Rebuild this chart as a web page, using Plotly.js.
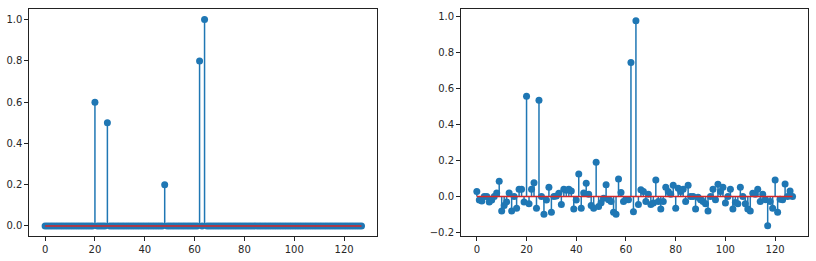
<!DOCTYPE html>
<html>
<head>
<meta charset="utf-8">
<script src="https://cdn.plot.ly/plotly-3.0.1.min.js"></script>
<style>html,body{margin:0;padding:0;background:#fff;}#chart{width:816px;height:261px;}</style>
</head>
<body>
<div id="chart"></div>
<script>
// Original sparse signal (length 128): index -> value for non-zero spikes
const N = 128;
const spikeIdx = [20, 25, 48, 62, 64];
const spikeVal = [0.6, 0.5, 0.2, 0.8, 1.0];

// Reconstructed signal
const recon = [
  0.028, -0.02, -0.025, 0.0, 0.0, -0.03, -0.02, 0.0, 0.02, 0.085,
  -0.08, -0.05, -0.03, 0.02, -0.08, 0.0, -0.065, 0.04, 0.04, -0.03,
  0.557, -0.04, 0.04, 0.077, -0.065, 0.535, 0.0, -0.098, -0.02, 0.052,
  -0.087, 0.0, 0.003, 0.018, -0.045, 0.04, 0.035, 0.04, 0.03, -0.07,
  -0.02, 0.125, -0.065, 0.02, 0.074, 0.013, -0.05, -0.065, 0.19, -0.055,
  -0.035, -0.01, 0.065, -0.018, -0.028, -0.087, -0.098, 0.098, 0.023, -0.028,
  -0.018, -0.018, 0.745, -0.085, 0.976, -0.045, 0.037, 0.028, -0.028, 0.013,
  -0.045, -0.036, 0.092, -0.028, -0.07, -0.028, 0.052, 0.028, 0.013, 0.063,
  -0.065, 0.046, 0.028, 0.04, -0.028, 0.063, 0.0, 0.0, -0.07, -0.004,
  -0.018, -0.028, -0.04, -0.08, 0.0, 0.04, -0.018, 0.068, 0.028, 0.052,
  -0.036, 0.0, 0.04, -0.07, -0.033, -0.04, 0.052, 0.0, -0.04, -0.07,
  -0.08, 0.018, 0.013, 0.04, -0.028, 0.013, -0.018, -0.162, -0.028, -0.065,
  0.092, -0.087, -0.015, -0.018, 0.07, 0.0, 0.03, 0.0
];

const xs = Array.from({length: N}, (_, i) => i);
const orig = xs.map(i => { const k = spikeIdx.indexOf(i); return k >= 0 ? spikeVal[k] : 0; });

const BLUE = '#1f77b4', RED = '#d62728';

function stemTraces(vals, xa, ya) {
  const sx = [], sy = [];
  xs.forEach((x, i) => { sx.push(x, x, null); sy.push(0, vals[i], null); });
  return [
    {x: sx, y: sy, mode: 'lines', line: {color: BLUE, width: 1.5}, xaxis: xa, yaxis: ya, hoverinfo: 'skip', type: 'scatter'},
    {x: xs, y: vals, mode: 'markers', marker: {color: BLUE, size: 7}, xaxis: xa, yaxis: ya, type: 'scatter'},
    {x: [xs[0], xs[N-1]], y: [0, 0], mode: 'lines', line: {color: RED, width: 1.5}, xaxis: xa, yaxis: ya, type: 'scatter'}
  ];
}

const data = [...stemTraces(orig, 'x', 'y'), ...stemTraces(recon, 'x2', 'y2')];

const axisCommon = {
  showgrid: false, zeroline: false, showline: true, mirror: true,
  linecolor: '#222', linewidth: 1, ticks: 'outside', ticklen: 4, tickcolor: '#222', tickwidth: 1,
  tickfont: {family: 'DejaVu Sans', size: 10, color: '#262626'}
};
const yDom = [0.0946, 0.9644];
const layout = {
  width: 816, height: 261, margin: {l: 0, r: 0, t: 0, b: 0},
  paper_bgcolor: '#fff', plot_bgcolor: '#fff', showlegend: false,
  xaxis: Object.assign({}, axisCommon, {domain: [0.0359, 0.4624], range: [-6.35, 133.35], dtick: 20, tick0: 0, anchor: 'y'}),
  yaxis: Object.assign({}, axisCommon, {domain: yDom, range: [-0.05, 1.05], dtick: 0.2, tick0: 0, tickformat: '.1f', anchor: 'x'}),
  xaxis2: Object.assign({}, axisCommon, {domain: [0.565, 0.9906], range: [-6.35, 133.35], dtick: 20, tick0: 0, anchor: 'y2'}),
  yaxis2: Object.assign({}, axisCommon, {domain: yDom, range: [-0.221, 1.040], dtick: 0.2, tick0: 0, tickformat: '.1f', anchor: 'x2'})
};
Plotly.newPlot('chart', data, layout, {staticPlot: true, displayModeBar: false});
</script>
</body>
</html>
